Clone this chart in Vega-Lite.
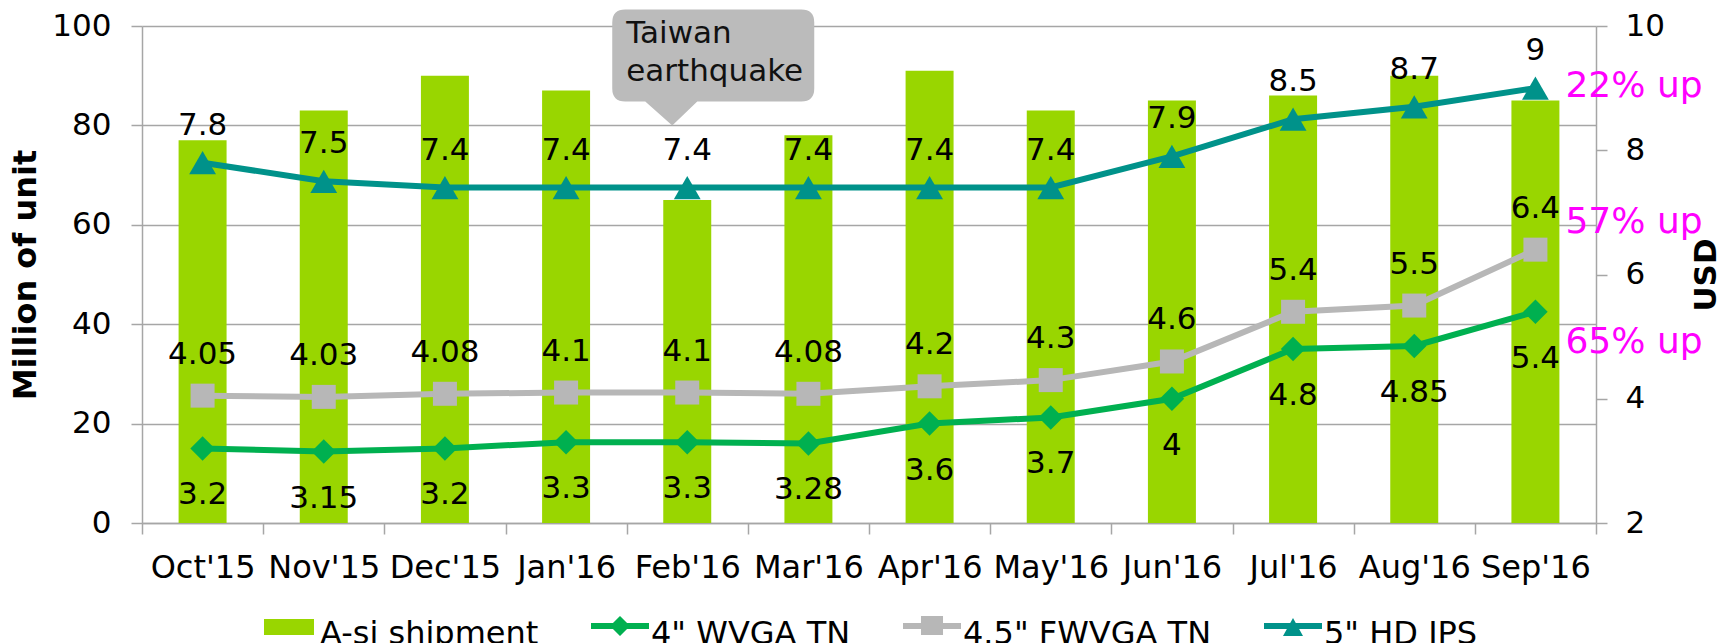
{
  "$schema": "https://vega.github.io/schema/vega-lite/v6.json",
  "width": 1454,
  "height": 497,
  "autosize": {"type": "none"},
  "padding": {"left": 142, "top": 26, "right": 133, "bottom": 120},
  "background": "white",
  "config": {
    "font": "DejaVu Sans",
    "view": {"stroke": null},
    "axis": {
      "labelFont": "DejaVu Sans",
      "labelFontSize": 31,
      "labelColor": "#000000",
      "titleFont": "DejaVu Sans",
      "titleColor": "#000000",
      "domainColor": "#A6A6A6",
      "tickColor": "#A6A6A6",
      "gridColor": "#A6A6A6",
      "domainWidth": 1.5,
      "tickWidth": 1.5,
      "gridWidth": 1.5,
      "tickSize": 11,
      "labelOverlap": false
    },
    "legend": {
      "labelFont": "DejaVu Sans",
      "labelFontSize": 32,
      "labelColor": "#000000",
      "labelLimit": 600,
      "layout": {"bottom": {"anchor": "middle"}}
    }
  },
  "datasets": {
    "ship": [
      {"month": "Oct'15", "units": 77},
      {"month": "Nov'15", "units": 83},
      {"month": "Dec'15", "units": 90},
      {"month": "Jan'16", "units": 87},
      {"month": "Feb'16", "units": 65},
      {"month": "Mar'16", "units": 78},
      {"month": "Apr'16", "units": 91},
      {"month": "May'16", "units": 83},
      {"month": "Jun'16", "units": 85},
      {"month": "Jul'16", "units": 86},
      {"month": "Aug'16", "units": 90},
      {"month": "Sep'16", "units": 85}
    ],
    "price": [
      {"month": "Oct'15", "series": "4\" WVGA TN", "usd": 3.2},
      {"month": "Nov'15", "series": "4\" WVGA TN", "usd": 3.15},
      {"month": "Dec'15", "series": "4\" WVGA TN", "usd": 3.2},
      {"month": "Jan'16", "series": "4\" WVGA TN", "usd": 3.3},
      {"month": "Feb'16", "series": "4\" WVGA TN", "usd": 3.3},
      {"month": "Mar'16", "series": "4\" WVGA TN", "usd": 3.28},
      {"month": "Apr'16", "series": "4\" WVGA TN", "usd": 3.6},
      {"month": "May'16", "series": "4\" WVGA TN", "usd": 3.7},
      {"month": "Jun'16", "series": "4\" WVGA TN", "usd": 4},
      {"month": "Jul'16", "series": "4\" WVGA TN", "usd": 4.8},
      {"month": "Aug'16", "series": "4\" WVGA TN", "usd": 4.85},
      {"month": "Sep'16", "series": "4\" WVGA TN", "usd": 5.4},
      {"month": "Oct'15", "series": "4.5\" FWVGA TN", "usd": 4.05},
      {"month": "Nov'15", "series": "4.5\" FWVGA TN", "usd": 4.03},
      {"month": "Dec'15", "series": "4.5\" FWVGA TN", "usd": 4.08},
      {"month": "Jan'16", "series": "4.5\" FWVGA TN", "usd": 4.1},
      {"month": "Feb'16", "series": "4.5\" FWVGA TN", "usd": 4.1},
      {"month": "Mar'16", "series": "4.5\" FWVGA TN", "usd": 4.08},
      {"month": "Apr'16", "series": "4.5\" FWVGA TN", "usd": 4.2},
      {"month": "May'16", "series": "4.5\" FWVGA TN", "usd": 4.3},
      {"month": "Jun'16", "series": "4.5\" FWVGA TN", "usd": 4.6},
      {"month": "Jul'16", "series": "4.5\" FWVGA TN", "usd": 5.4},
      {"month": "Aug'16", "series": "4.5\" FWVGA TN", "usd": 5.5},
      {"month": "Sep'16", "series": "4.5\" FWVGA TN", "usd": 6.4},
      {"month": "Oct'15", "series": "5\" HD IPS", "usd": 7.8},
      {"month": "Nov'15", "series": "5\" HD IPS", "usd": 7.5},
      {"month": "Dec'15", "series": "5\" HD IPS", "usd": 7.4},
      {"month": "Jan'16", "series": "5\" HD IPS", "usd": 7.4},
      {"month": "Feb'16", "series": "5\" HD IPS", "usd": 7.4},
      {"month": "Mar'16", "series": "5\" HD IPS", "usd": 7.4},
      {"month": "Apr'16", "series": "5\" HD IPS", "usd": 7.4},
      {"month": "May'16", "series": "5\" HD IPS", "usd": 7.4},
      {"month": "Jun'16", "series": "5\" HD IPS", "usd": 7.9},
      {"month": "Jul'16", "series": "5\" HD IPS", "usd": 8.5},
      {"month": "Aug'16", "series": "5\" HD IPS", "usd": 8.7},
      {"month": "Sep'16", "series": "5\" HD IPS", "usd": 9}
    ],
    "note": [
      {"month": "Feb'16", "units": 80, "label": "Taiwan\nearthquake"}
    ],
    "pct": [
      {"month": "Sep'16", "usd": 9.03, "label": "22% up"},
      {"month": "Sep'16", "usd": 6.84, "label": "57% up"},
      {"month": "Sep'16", "usd": 4.91, "label": "65% up"}
    ]
  },
  "encoding": {
    "x": {
      "field": "month",
      "type": "nominal",
      "sort": ["Oct'15", "Nov'15", "Dec'15", "Jan'16", "Feb'16", "Mar'16", "Apr'16", "May'16", "Jun'16", "Jul'16", "Aug'16", "Sep'16"],
      "scale": {"paddingInner": 0, "paddingOuter": 0},
      "title": null,
      "axis": {"labelAngle": 0, "tickBand": "extent", "labelPadding": 18, "grid": false, "domain": true, "labelFontSize": 32}
    }
  },
  "layer": [
    {
      "layer": [
        {
          "data": {"name": "ship"},
          "mark": {"type": "bar", "color": "#99D600", "width": {"band": 0.396}},
          "encoding": {
            "y": {
              "field": "units",
              "type": "quantitative",
              "scale": {"domain": [0, 100], "nice": false},
              "axis": {
                "orient": "left",
                "title": "Million of unit",
                "titleFontSize": 32,
                "titleFontWeight": "bold",
                "titlePadding": 9,
                "values": [0, 20, 40, 60, 80, 100],
                "grid": true,
                "labelPadding": 20
              }
            }
          }
        },
        {
          "data": {"name": "note"},
          "mark": {
            "type": "point",
            "filled": true,
            "opacity": 1,
            "color": "#BBBBBB",
            "size": 40000,
            "shape": "M-0.62,-1.16H1.14Q1.27,-1.16,1.27,-1.03V-0.37Q1.27,-0.24,1.14,-0.24H0.10L-0.15,0L-0.42,-0.24H-0.62Q-0.75,-0.24,-0.75,-0.37V-1.03Q-0.75,-1.16,-0.62,-1.16Z"
          },
          "encoding": {
            "y": {"field": "units", "type": "quantitative"}
          }
        },
        {
          "data": {"name": "note"},
          "mark": {
            "type": "text",
            "align": "left",
            "baseline": "alphabetic",
            "dx": -61,
            "dy": -82,
            "fontSize": 31,
            "lineBreak": "\n",
            "lineHeight": 38,
            "color": "#111111"
          },
          "encoding": {
            "y": {"field": "units", "type": "quantitative"},
            "text": {"field": "label", "type": "nominal"}
          }
        }
      ]
    },
    {
      "layer": [
        {
          "data": {"name": "price"},
          "mark": {"type": "line", "strokeWidth": 6},
          "encoding": {
            "y": {
              "field": "usd",
              "type": "quantitative",
              "scale": {"domain": [2, 10], "nice": false},
              "axis": {
                "orient": "right",
                "title": "USD",
                "titleFontSize": 31,
                "titleFontWeight": "bold",
                "titleAngle": 270,
                "titleBaseline": "top",
                "titlePadding": 27,
                "values": [2, 4, 6, 8, 10],
                "format": "d",
                "grid": false,
                "labelPadding": 18
              }
            },
            "stroke": {
              "field": "series",
              "type": "nominal",
              "scale": {
                "domain": ["4\" WVGA TN", "4.5\" FWVGA TN", "5\" HD IPS"],
                "range": ["#00B050", "#B7B7B7", "#00928A"]
              },
              "legend": null
            }
          }
        },
        {
          "data": {"name": "price"},
          "mark": {"type": "point", "filled": true, "opacity": 1, "strokeWidth": 0},
          "encoding": {
            "y": {"field": "usd", "type": "quantitative"},
            "fill": {
              "field": "series",
              "type": "nominal",
              "scale": {
                "domain": ["4\" WVGA TN", "4.5\" FWVGA TN", "5\" HD IPS"],
                "range": ["#00B050", "#B7B7B7", "#00928A"]
              },
              "legend": null
            },
            "shape": {
              "condition": [
                {"test": {"field": "series", "equal": "4\" WVGA TN"}, "value": "diamond"},
                {"test": {"field": "series", "equal": "4.5\" FWVGA TN"}, "value": "square"}
              ],
              "value": "triangle-up"
            },
            "size": {
              "condition": [
                {"test": {"field": "series", "equal": "4\" WVGA TN"}, "value": 600},
                {"test": {"field": "series", "equal": "4.5\" FWVGA TN"}, "value": 576}
              ],
              "value": 720
            }
          }
        },
        {
          "data": {"name": "price"},
          "transform": [{"filter": {"field": "series", "equal": "4\" WVGA TN"}}],
          "mark": {"type": "text", "fontSize": 31, "baseline": "middle", "dy": 47, "color": "#000000"},
          "encoding": {
            "y": {"field": "usd", "type": "quantitative"},
            "text": {"field": "usd", "type": "nominal"}
          }
        },
        {
          "data": {"name": "price"},
          "transform": [{"filter": {"field": "series", "equal": "4.5\" FWVGA TN"}}],
          "mark": {"type": "text", "fontSize": 31, "baseline": "middle", "dy": -41, "color": "#000000"},
          "encoding": {
            "y": {"field": "usd", "type": "quantitative"},
            "text": {"field": "usd", "type": "nominal"}
          }
        },
        {
          "data": {"name": "price"},
          "transform": [{"filter": {"field": "series", "equal": "5\" HD IPS"}}],
          "mark": {"type": "text", "fontSize": 31, "baseline": "middle", "dy": -37, "color": "#000000"},
          "encoding": {
            "y": {"field": "usd", "type": "quantitative"},
            "text": {"field": "usd", "type": "nominal"}
          }
        },
        {
          "data": {"name": "pct"},
          "mark": {"type": "text", "fontSize": 36, "align": "left", "baseline": "middle", "dx": 30, "color": "#FF00FF"},
          "encoding": {
            "y": {"field": "usd", "type": "quantitative"},
            "text": {"field": "label", "type": "nominal"}
          }
        },
        {
          "data": {"name": "price"},
          "mark": {"type": "point", "filled": true, "opacity": 0},
          "encoding": {
            "y": {"field": "usd", "type": "quantitative"},
            "color": {
              "field": "series",
              "type": "nominal",
              "scale": {
                "domain": ["A-si shipment", "4\" WVGA TN", "4.5\" FWVGA TN", "5\" HD IPS"],
                "range": ["#99D600", "#00B050", "#B7B7B7", "#00928A"]
              },
              "legend": {
                "orient": "bottom",
                "direction": "horizontal",
                "title": null,
                "symbolSize": 3364,
                "symbolOpacity": 1,
                "symbolStrokeWidth": 0,
                "labelOffset": 2,
                "columnPadding": 52,
                "offset": 22,
                "labelFontSize": 32,
                "labelLimit": 600
              }
            },
            "shape": {
              "field": "series",
              "type": "nominal",
              "scale": {
                "domain": ["A-si shipment", "4\" WVGA TN", "4.5\" FWVGA TN", "5\" HD IPS"],
                "range": [
                  "M-0.862,-0.517H0.862V0.034H-0.862Z",
                  "M-1,-0.379H-0.242L0,-0.621L0.242,-0.379H1V-0.172H0.242L0,0.069L-0.242,-0.172H-1Z",
                  "M-1,-0.379H-0.38V-0.621H0.38V-0.379H1V-0.172H0.38V0.034H-0.38V-0.172H-1Z",
                  "M-1,-0.379H-0.096L0,-0.552L0.096,-0.379H1V-0.172H0.211L0.345,0.069H-0.345L-0.211,-0.172H-1Z"
                ]
              },
              "legend": {
                "orient": "bottom",
                "direction": "horizontal",
                "title": null,
                "symbolSize": 3364,
                "symbolOpacity": 1,
                "symbolStrokeWidth": 0,
                "labelOffset": 2,
                "columnPadding": 52,
                "offset": 22,
                "labelFontSize": 32,
                "labelLimit": 600
              }
            }
          }
        }
      ]
    }
  ],
  "resolve": {"scale": {"y": "independent"}}
}
